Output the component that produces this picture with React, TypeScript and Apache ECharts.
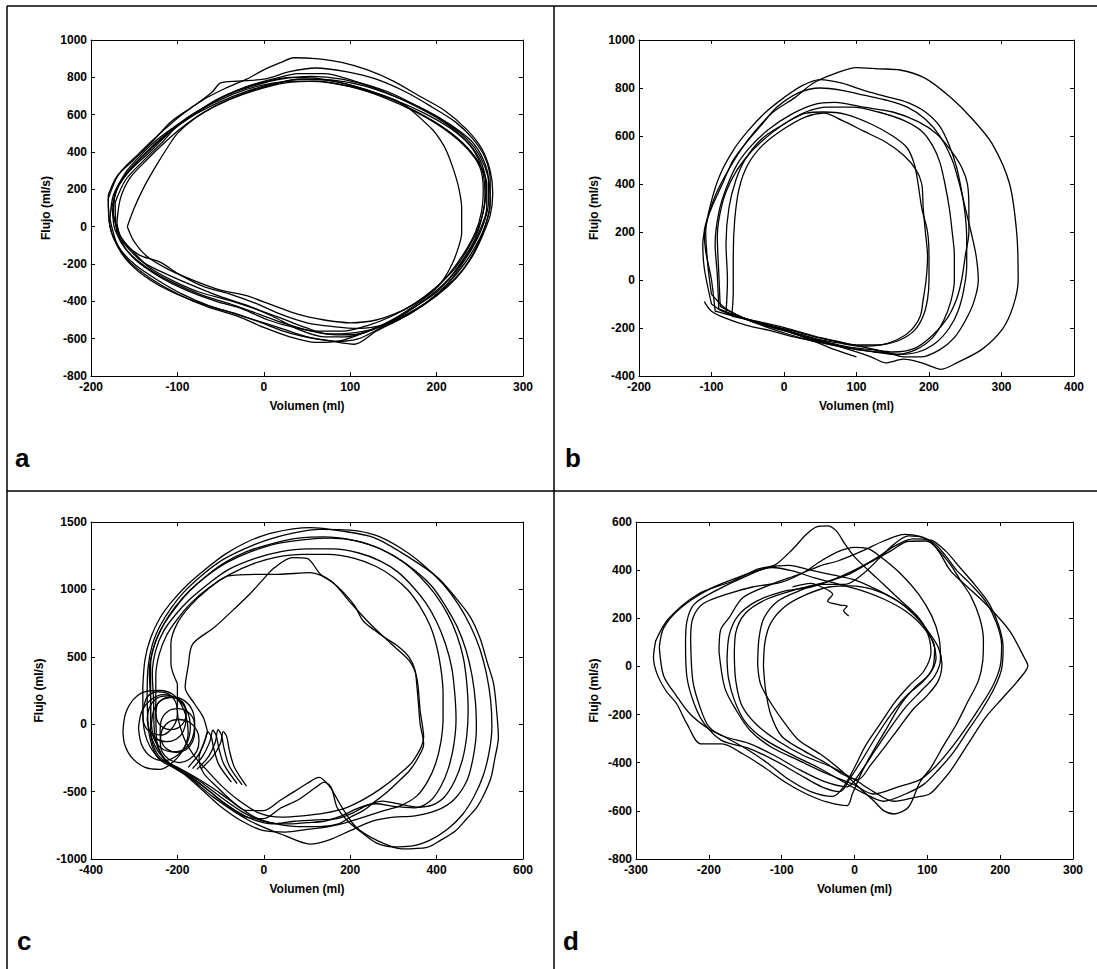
import React, { useEffect, useRef } from 'react';
import * as echarts from 'echarts';

const FONT = '"Liberation Sans", Arial, Helvetica, sans-serif';

// ---------------- Panel a ----------------
const aXTicks = [-200, -100, 0, 100, 200, 300];
const aYTicks = [-800, -600, -400, -200, 0, 200, 400, 600, 800, 1000];
const a1 = [[-175,80],[-170,200],[-155,300],[-132,400],[-110,500],[-85,590],[-55,680],[-25,740],[0,775],[30,800],[60,795],[100,760],[140,700],[175,620],[205,540],[230,450],[248,350],[258,230],[258,100],[250,-20],[238,-130],[220,-250],[200,-350],[175,-430],[150,-500],[120,-560],[95,-590],[70,-590],[40,-550],[10,-480],[-20,-420],[-50,-375],[-80,-320],[-110,-260],[-140,-190],[-160,-100],[-172,-20],[-175,80]];
const a2 = [[-180,150],[-168,280],[-145,390],[-120,500],[-95,600],[-70,680],[-45,740],[-20,790],[0,840],[20,880],[35,905],[60,900],[90,880],[120,840],[150,780],[180,700],[210,620],[235,520],[252,420],[262,300],[265,180],[262,60],[252,-60],[240,-170],[222,-280],[200,-370],[170,-460],[140,-530],[110,-600],[85,-615],[60,-600],[30,-570],[0,-520],[-30,-470],[-60,-430],[-95,-360],[-125,-280],[-150,-200],[-168,-110],[-178,0],[-180,150]];
const a3 = [[-158,0],[-150,100],[-140,200],[-128,300],[-112,420],[-100,500],[-80,580],[-55,650],[-20,720],[10,760],[40,790],[80,780],[120,730],[160,660],[194,526],[205,460],[212,400],[220,300],[226,200],[229,100],[229,-34],[226,-100],[218,-200],[205,-300],[185,-380],[160,-450],[130,-500],[100,-515],[70,-500],[40,-470],[10,-420],[-20,-370],[-50,-340],[-80,-290],[-110,-230],[-135,-160],[-150,-80],[-158,0]];
const a4 = [[-172,130],[-160,250],[-140,350],[-118,450],[-100,540],[-75,620],[-50,690],[-20,750],[10,790],[40,820],[70,820],[105,780],[145,720],[180,640],[210,560],[235,470],[250,380],[260,260],[262,140],[258,30],[248,-80],[232,-200],[212,-310],[190,-400],[165,-470],[135,-535],[110,-575],[85,-580],[55,-560],[25,-520],[-5,-470],[-35,-420],[-70,-370],[-105,-300],[-135,-220],[-158,-130],[-170,-30],[-172,130]];
const a5 = [[-178,40],[-174,170],[-160,280],[-140,380],[-120,470],[-98,550],[-72,630],[-45,700],[-15,750],[20,790],[55,805],[90,790],[130,740],[165,670],[198,590],[225,500],[244,400],[254,280],[256,160],[252,40],[244,-70],[230,-180],[212,-290],[190,-380],[165,-460],[140,-520],[115,-570],[90,-610],[60,-620],[30,-590],[0,-540],[-30,-480],[-65,-430],[-100,-360],[-130,-280],[-155,-190],[-170,-90],[-178,40]];
const a6 = [[-176,100],[-168,220],[-150,330],[-128,430],[-105,520],[-80,600],[-50,670],[-20,725],[10,765],[45,790],[80,785],[115,755],[150,700],[185,630],[215,550],[240,460],[254,360],[260,250],[260,130],[254,10],[243,-100],[228,-210],[210,-320],[190,-400],[168,-470],[140,-525],[110,-545],[80,-535],[50,-515],[20,-470],[-10,-410],[-40,-360],[-70,-320],[-100,-250],[-120,-190],[-145,-150],[-165,-60],[-176,100]];
const a7 = [[-174,60],[-172,180],[-160,290],[-145,370],[-125,460],[-105,530],[-80,610],[-55,670],[-30,720],[0,760],[35,780],[70,775],[110,740],[150,680],[185,610],[215,530],[238,440],[252,340],[257,220],[255,100],[248,-10],[236,-120],[220,-230],[198,-330],[175,-410],[148,-480],[120,-530],[92,-560],[62,-560],[35,-540],[5,-500],[-25,-440],[-55,-400],[-90,-340],[-120,-270],[-148,-180],[-165,-80],[-174,60]];
const a8 = [[-180,170],[-170,270],[-150,360],[-128,460],[-108,560],[-80,650],[-60,720],[-50,770],[-30,780],[0,790],[30,830],[60,850],[95,830],[130,790],[165,720],[195,640],[222,560],[242,470],[256,370],[262,250],[262,120],[256,0],[246,-110],[232,-220],[212,-320],[188,-410],[160,-490],[130,-560],[105,-630],[80,-615],[50,-590],[20,-545],[-10,-500],[-45,-450],[-80,-400],[-115,-330],[-145,-240],[-165,-140],[-178,0],[-180,170]];
const a9 = [[-170,20],[-166,150],[-155,260],[-135,360],[-115,450],[-95,530],[-70,610],[-40,680],[-10,730],[25,770],[60,780],[100,750],[140,690],[178,610],[210,520],[235,420],[250,320],[254,200],[252,80],[245,-30],[232,-140],[215,-250],[195,-350],[172,-430],[148,-500],[125,-550],[100,-570],[75,-575],[48,-540],[20,-490],[-10,-440],[-40,-395],[-75,-350],[-105,-290],[-132,-220],[-152,-130],[-166,-50],[-170,20]];
const panelALoops = [a1, a2, a3, a4, a5, a6, a7, a8, a9];

// ---------------- Panel b ----------------
const bXTicks = [-200, -100, 0, 100, 200, 300, 400];
const bYTicks = [-400, -200, 0, 200, 400, 600, 800, 1000];
const b1 = [[-100,-100],[-110,50],[-112,150],[-105,260],[-95,350],[-80,440],[-60,540],[-40,620],[-15,700],[15,760],[40,820],[70,860],[100,885],[130,880],[160,875],[195,840],[230,760],[260,670],[287,568],[311,402],[321,195],[323,0],[316,-110],[301,-206],[273,-289],[239,-344],[217,-372],[190,-345],[165,-330],[140,-345],[120,-320],[90,-290],[60,-265],[30,-240],[0,-205],[-30,-180],[-60,-155],[-85,-130],[-100,-100]];
const b2 = [[-95,-130],[-100,0],[-108,120],[-110,200],[-100,300],[-85,400],[-70,500],[-50,580],[-30,650],[-10,720],[20,780],[50,800],[80,790],[110,770],[140,750],[170,720],[195,670],[215,600],[232,500],[242,400],[250,300],[258,200],[265,100],[268,0],[262,-90],[250,-170],[235,-240],[215,-290],[190,-320],[165,-320],[140,-300],[110,-280],[80,-260],[50,-240],[20,-215],[-10,-190],[-40,-170],[-70,-150],[-95,-130]];
const b3 = [[-90,-120],[-92,20],[-95,150],[-90,280],[-80,380],[-65,480],[-45,560],[-20,630],[10,690],[40,730],[70,740],[110,720],[150,700],[185,660],[210,610],[230,540],[245,470],[253,400],[255,300],[255,200],[250,100],[245,0],[238,-80],[225,-160],[205,-230],[180,-285],[150,-300],[120,-290],[90,-280],[60,-260],[30,-240],[0,-210],[-30,-185],[-60,-155],[-90,-120]];
const b4 = [[-72,-150],[-70,-50],[-70,100],[-68,250],[-62,380],[-50,480],[-30,560],[0,630],[30,680],[55,695],[80,665],[110,620],[140,575],[165,520],[182,460],[190,400],[192,300],[195,200],[198,100],[196,0],[192,-80],[188,-150],[175,-210],[155,-250],[130,-270],[100,-270],[70,-255],[40,-235],[10,-210],[-20,-190],[-45,-170],[-72,-150]];
const b5 = [[-88,-110],[-90,30],[-92,180],[-85,320],[-72,420],[-55,500],[-30,580],[0,650],[30,700],[60,720],[95,720],[130,700],[165,665],[190,620],[205,560],[215,490],[222,400],[228,300],[232,200],[235,100],[235,0],[230,-90],[220,-170],[205,-240],[182,-290],[155,-310],[125,-300],[95,-285],[65,-270],[35,-250],[5,-225],[-25,-195],[-55,-160],[-88,-110]];
const b6 = [[-100,-60],[-105,60],[-108,200],[-100,330],[-88,440],[-70,540],[-50,620],[-25,700],[0,760],[25,810],[50,835],[80,820],[110,790],[140,765],[170,740],[195,700],[215,640],[228,560],[238,470],[245,370],[250,270],[252,170],[252,60],[248,-40],[240,-130],[228,-200],[210,-260],[185,-300],[160,-310],[130,-300],[100,-290],[70,-270],[40,-245],[10,-220],[-20,-195],[-50,-165],[-80,-120],[-100,-60]];
const b7 = [[-80,-140],[-78,0],[-80,150],[-76,300],[-66,420],[-52,510],[-30,590],[0,650],[30,695],[55,700],[85,690],[120,650],[150,600],[170,550],[180,480],[185,400],[190,300],[198,200],[200,100],[200,0],[198,-80],[192,-150],[180,-210],[160,-250],[135,-270],[105,-275],[75,-262],[45,-245],[15,-220],[-15,-195],[-45,-170],[-80,-140]];
const b8 = [[-110,-90],[-100,-130],[-80,-160],[-50,-190],[-20,-210],[10,-235],[40,-255],[70,-290],[100,-320]];
const panelBLoops = [b1, b2, b3, b4, b5, b6, b7, b8];

// ---------------- Panel c ----------------
const cXTicks = [-400, -200, 0, 200, 400, 600];
const cYTicks = [-1000, -500, 0, 500, 1000, 1500];
const c1 = [[-280,280],[-275,480],[-262,640],[-240,790],[-210,920],[-175,1040],[-135,1150],[-90,1260],[-40,1350],[20,1420],[107,1458],[181,1433],[255,1384],[337,1236],[403,1087],[444,939],[477,800],[500,643],[518,450],[532,300],[539,98],[543,-99],[535,-250],[526,-395],[510,-520],[493,-617],[470,-700],[444,-790],[410,-860],[378,-914],[320,-925],[263,-864],[214,-765],[181,-617],[160,-500],[148,-444],[128,-395],[100,-440],[74,-493],[40,-560],[0,-641],[-40,-640],[-80,-560],[-120,-470],[-160,-390],[-200,-320],[-240,-260],[-270,-120],[-280,80],[-280,280]];
const c2 = [[-270,220],[-268,420],[-258,590],[-240,730],[-215,860],[-185,980],[-145,1100],[-100,1210],[-45,1300],[10,1370],[70,1420],[130,1445],[200,1440],[260,1400],[320,1300],[370,1180],[415,1040],[450,890],[478,730],[500,560],[515,380],[525,180],[528,-20],[522,-200],[508,-380],[486,-540],[460,-670],[425,-780],[385,-860],[340,-905],[300,-910],[260,-880],[225,-800],[195,-720],[170,-620],[156,-470],[140,-430],[120,-470],[80,-560],[40,-620],[0,-700],[-40,-690],[-85,-600],[-125,-500],[-165,-400],[-205,-330],[-245,-250],[-265,-80],[-270,220]];
const c3 = [[-262,200],[-265,400],[-255,570],[-235,720],[-210,840],[-180,960],[-140,1080],[-95,1190],[-40,1280],[20,1340],[80,1380],[140,1390],[200,1370],[255,1320],[305,1240],[350,1140],[390,1020],[420,880],[448,720],[468,550],[482,360],[490,160],[492,-40],[485,-240],[470,-420],[440,-560],[400,-640],[350,-680],[300,-690],[250,-720],[200,-790],[150,-860],[107,-889],[49,-827],[-33,-716],[-116,-543],[-170,-400],[-215,-298],[-245,-200],[-262,-50],[-262,200]];
const c4 = [[-255,180],[-258,380],[-250,550],[-232,690],[-205,810],[-170,930],[-125,1050],[-80,1150],[-20,1230],[40,1280],[100,1300],[160,1300],[220,1270],[270,1210],[310,1130],[345,1020],[375,900],[400,760],[420,600],[435,420],[442,230],[445,40],[440,-150],[428,-320],[410,-460],[385,-570],[350,-620],[300,-610],[260,-590],[220,-620],[180,-680],[140,-720],[100,-730],[50,-740],[0,-720],[-50,-650],[-100,-540],[-145,-430],[-190,-340],[-230,-260],[-252,-100],[-255,180]];
const c5 = [[-250,160],[-250,360],[-242,520],[-225,660],[-200,780],[-168,900],[-128,1010],[-80,1110],[-25,1190],[30,1240],[90,1260],[150,1260],[210,1230],[260,1170],[300,1090],[335,990],[362,870],[385,730],[400,580],[410,410],[415,230],[415,50],[410,-130],[398,-290],[380,-420],[355,-530],[320,-600],[280,-640],[240,-680],[200,-720],[150,-760],[100,-780],[50,-800],[0,-790],[-50,-720],[-100,-610],[-145,-480],[-185,-370],[-225,-280],[-248,-120],[-250,160]];
const c6 = [[-130,-60],[-140,50],[-160,150],[-182,272],[-175,430],[-165,593],[-115,717],[-70,850],[-33,964],[0,1080],[25,1162],[66,1236],[100,1230],[131,1112],[160,1050],[181,989],[210,880],[230,766],[255,700],[280,643],[310,580],[337,494],[350,400],[354,297],[358,150],[362,0],[370,-148],[355,-260],[337,-345],[310,-430],[280,-518],[255,-580],[230,-641],[200,-690],[173,-740],[130,-760],[80,-760],[30,-740],[-20,-690],[-70,-580],[-110,-460],[-140,-360],[-150,-250],[-140,-150],[-130,-60]];
const c7 = [[-200,300],[-215,450],[-215,600],[-200,750],[-170,880],[-130,1000],[-82,1100],[-20,1112],[33,1112],[107,1124],[156,1063],[197,915],[247,741],[296,593],[337,470],[354,346],[362,99],[370,-99],[346,-271],[310,-380],[270,-480],[230,-560],[190,-620],[140,-660],[90,-680],[40,-690],[-10,-660],[-60,-560],[-100,-450],[-135,-330],[-160,-240],[-185,-100],[-200,100],[-200,300]];
const c8 = [[-262,240],[-262,440],[-252,600],[-232,740],[-205,870],[-172,990],[-132,1100],[-85,1200],[-30,1280],[30,1340],[95,1370],[155,1380],[215,1360],[270,1300],[320,1210],[360,1100],[395,970],[425,820],[447,660],[462,490],[470,300],[473,110],[470,-80],[460,-260],[442,-420],[418,-540],[390,-600],[355,-615],[310,-590],[275,-570],[240,-600],[205,-660],[170,-700],[120,-710],[70,-720],[20,-740],[-30,-700],[-80,-610],[-125,-500],[-165,-400],[-205,-320],[-245,-230],[-262,-60],[-262,240]];
const cSpiral1 = [[-290,-30],[-283,90],[-262,180],[-232,220],[-202,190],[-178,100],[-170,-20],[-178,-140],[-200,-230],[-232,-270],[-262,-240],[-283,-150],[-290,-30]];
const cSpiral2 = [[-260,0],[-254,110],[-236,180],[-210,200],[-184,175],[-165,100],[-160,0],[-166,-110],[-184,-185],[-210,-205],[-236,-180],[-254,-110],[-260,0]];
const cSpiral3 = [[-240,-50],[-236,40],[-220,100],[-198,115],[-176,90],[-162,30],[-160,-50],[-165,-130],[-180,-190],[-202,-210],[-224,-185],[-237,-130],[-240,-50]];
const cSpiral4 = [[-270,40],[-264,130],[-246,195],[-222,210],[-198,185],[-182,120],[-180,40],[-186,-50],[-202,-110],[-226,-130],[-250,-105],[-265,-40],[-270,40]];
const cSpiral5 = [[-326,-50],[-320,80],[-300,190],[-270,245],[-240,250],[-210,220],[-192,150],[-180,60],[-175,-60],[-185,-180],[-210,-280],[-240,-335],[-275,-320],[-305,-250],[-322,-150],[-326,-50]];
const cSpiral6 = [[-240,-120],[-235,-40],[-218,20],[-195,35],[-172,15],[-155,-45],[-150,-120],[-155,-200],[-172,-260],[-196,-285],[-220,-260],[-236,-200],[-240,-120]];
const cSpiral7 = [[-250,80],[-246,150],[-232,190],[-214,200],[-196,185],[-183,140],[-180,80],[-184,20],[-197,-25],[-215,-40],[-233,-25],[-246,20],[-250,80]];
const cSpiral8 = [[-280,100],[-270,200],[-250,240],[-225,230],[-205,170],[-200,80],[-210,-20],[-235,-80],[-262,-60],[-278,10],[-280,100]];
const cHook1 = [[-175,-320],[-150,-220],[-136,-120],[-130,-55],[-122,-90],[-116,-180],[-104,-300],[-75,-430]];
const cHook2 = [[-165,-330],[-140,-230],[-124,-120],[-118,-45],[-110,-85],[-104,-180],[-92,-300],[-62,-440]];
const cHook3 = [[-155,-335],[-128,-240],[-112,-130],[-106,-40],[-98,-80],[-92,-180],[-80,-310],[-50,-450]];
const cHook4 = [[-145,-330],[-118,-240],[-100,-140],[-94,-55],[-86,-90],[-80,-190],[-68,-320],[-40,-460]];
const panelCLoops = [c1, c2, c3, c4, c5, c6, c7, c8, cSpiral1, cSpiral2, cSpiral3, cSpiral4, cSpiral5, cSpiral6, cSpiral7, cSpiral8, cHook1, cHook2, cHook3, cHook4];

// ---------------- Panel d ----------------
const dXTicks = [-300, -200, -100, 0, 100, 200, 300];
const dYTicks = [-800, -600, -400, -200, 0, 200, 400, 600];
const d1 = [[-273,106],[-256,196],[-215,300],[-167,355],[-133,404],[-109,422],[-85,487],[-66,549],[-52,580],[-37,584],[-25,563],[-13,508],[1,452],[30,369],[59,286],[88,203],[107,106],[112,37],[103,-32],[83,-87],[64,-156],[45,-253],[26,-350],[11,-433],[-3,-530],[-10,-578],[-37,-564],[-66,-530],[-95,-481],[-124,-419],[-153,-364],[-182,-322],[-211,-322],[-230,-239],[-244,-156],[-259,-101],[-271,-32],[-276,37],[-273,106]];
const d2 = [[-268,80],[-262,160],[-240,240],[-200,320],[-160,370],[-120,410],[-90,420],[-60,400],[-30,380],[0,360],[30,320],[60,270],[85,210],[100,140],[105,60],[95,-20],[75,-80],[55,-150],[35,-240],[15,-330],[0,-420],[-15,-500],[-30,-540],[-60,-520],[-90,-470],[-120,-400],[-150,-340],[-180,-290],[-200,-260],[-225,-200],[-245,-120],[-262,-40],[-268,80]];
const d3 = [[-232,93],[-230,189],[-220,259],[-191,314],[-153,369],[-114,411],[-85,397],[-56,369],[-20,340],[11,314],[40,280],[70,230],[95,160],[110,80],[108,0],[95,-60],[72,-120],[50,-200],[30,-290],[12,-380],[-5,-460],[-20,-520],[-45,-500],[-75,-450],[-110,-390],[-145,-340],[-182,-308],[-206,-239],[-220,-156],[-230,-46],[-232,93]];
const d4 = [[-225,120],[-222,200],[-208,260],[-175,300],[-140,330],[-100,350],[-70,390],[-45,440],[-20,480],[0,495],[18,490],[38,450],[65,380],[88,300],[106,210],[116,120],[118,30],[110,-40],[92,-100],[70,-170],[48,-260],[28,-350],[8,-440],[-10,-500],[-40,-480],[-75,-430],[-110,-370],[-145,-320],[-180,-290],[-200,-250],[-212,-170],[-222,-60],[-225,120]];
const d5 = [[-186,60],[-184,150],[-172,203],[-153,286],[-114,341],[-76,383],[-47,418],[-23,438],[11,480],[40,521],[69,549],[90,540],[110,510],[125,460],[140,400],[160,340],[180,270],[195,180],[202,90],[200,0],[190,-80],[172,-170],[152,-260],[130,-350],[110,-420],[90,-470],[60,-500],[26,-530],[-3,-488],[-37,-447],[-76,-391],[-114,-336],[-143,-267],[-162,-184],[-178,-90],[-186,60]];
const d6 = [[-165,40],[-163,140],[-150,220],[-120,280],[-80,320],[-40,350],[-10,380],[20,430],[50,480],[74,520],[98,521],[112,494],[132,397],[156,328],[185,245],[213,148],[233,37],[238,3],[228,-46],[204,-129],[180,-212],[156,-322],[132,-433],[117,-488],[103,-530],[83,-544],[54,-560],[26,-520],[0,-470],[-30,-420],[-70,-370],[-105,-310],[-135,-240],[-155,-160],[-163,-60],[-165,40]];
const d7 = [[-133,10],[-131,120],[-124,203],[-105,272],[-76,314],[-47,341],[-13,341],[11,383],[35,452],[54,507],[74,542],[95,535],[110,500],[130,430],[145,360],[160,290],[172,200],[177,110],[176,20],[170,-60],[155,-150],[140,-240],[122,-330],[105,-420],[90,-480],[74,-585],[54,-613],[40,-599],[26,-557],[6,-502],[-18,-433],[-47,-364],[-76,-308],[-95,-239],[-114,-156],[-129,-73],[-133,10]];
const d8 = [[-125,0],[-123,100],[-115,180],[-95,250],[-65,300],[-35,330],[-5,335],[25,320],[55,280],[80,220],[100,150],[115,80],[120,10],[115,-60],[100,-120],[80,-180],[60,-260],[40,-340],[22,-410],[5,-470],[-15,-450],[-40,-400],[-70,-350],[-100,-290],[-115,-200],[-122,-100],[-125,0]];
const d9 = [[-175,30],[-172,130],[-160,210],[-135,270],[-100,310],[-60,330],[-30,360],[0,400],[30,450],[55,500],[80,530],[105,525],[125,480],[145,410],[165,340],[185,260],[198,170],[204,80],[202,-10],[192,-90],[175,-180],[155,-270],[135,-360],[115,-430],[95,-490],[70,-530],[40,-560],[15,-530],[-15,-480],[-50,-420],[-90,-360],[-125,-300],[-150,-230],[-165,-140],[-173,-50],[-175,30]];
const dTail = [[-85,330],[-60,345],[-45,330],[-30,300],[-37,272],[-20,255],[-10,250],[-15,232],[-8,210]];
const panelDLoops = [d1, d2, d3, d4, d5, d6, d7, d8, d9, dTail];

// ---------------- Layout ----------------
const panels = [
  { letter: 'a', loops: panelALoops, xTicks: aXTicks, yTicks: aYTicks, box: { left: 91, top: 40, width: 432, height: 336 }, yGap: 39, letterPos: [15, 458] },
  { letter: 'b', loops: panelBLoops, xTicks: bXTicks, yTicks: bYTicks, box: { left: 639, top: 40, width: 435, height: 336 }, yGap: 39, letterPos: [565, 458] },
  { letter: 'c', loops: panelCLoops, xTicks: cXTicks, yTicks: cYTicks, box: { left: 91, top: 522, width: 432, height: 337 }, yGap: 46, letterPos: [17, 941] },
  { letter: 'd', loops: panelDLoops, xTicks: dXTicks, yTicks: dYTicks, box: { left: 636, top: 522, width: 437, height: 337 }, yGap: 36, letterPos: [563, 941] },
];

function range(ticks: number[]) {
  return { min: ticks[0], max: ticks[ticks.length - 1], interval: ticks[1] - ticks[0] };
}

function buildOption() {
  const grid: any[] = [];
  const xAxis: any[] = [];
  const yAxis: any[] = [];
  const series: any[] = [];
  const lineStyle = { color: '#000', width: 1 };
  const tick = { show: true, inside: true, length: 4, lineStyle: { color: '#000', width: 1 } };
  const label = {
    color: '#000', fontSize: 12, fontWeight: 'bold', fontFamily: FONT,
    showMinLabel: true, showMaxLabel: true, formatter: (v: number) => String(v),
  };
  const nameStyle = { color: '#000', fontSize: 12, fontWeight: 'bold', fontFamily: FONT };

  panels.forEach((p, i) => {
    grid.push({ left: p.box.left, top: p.box.top, width: p.box.width, height: p.box.height, containLabel: false, show: false });
    const xr = range(p.xTicks);
    const yr = range(p.yTicks);
    xAxis.push({
      type: 'value', gridIndex: i, position: 'bottom', ...xr,
      axisLine: { show: true, onZero: false, lineStyle }, axisTick: tick,
      axisLabel: { ...label, margin: 5 }, splitLine: { show: false },
      name: 'Volumen (ml)', nameLocation: 'middle', nameGap: 24, nameTextStyle: nameStyle,
    });
    xAxis.push({
      type: 'value', gridIndex: i, position: 'top', ...xr,
      axisLine: { show: true, onZero: false, lineStyle }, axisTick: tick,
      axisLabel: { show: false }, splitLine: { show: false },
    });
    yAxis.push({
      type: 'value', gridIndex: i, position: 'left', ...yr,
      axisLine: { show: true, onZero: false, lineStyle }, axisTick: tick,
      axisLabel: { ...label, margin: 4 }, splitLine: { show: false },
      name: 'Flujo (ml/s)', nameLocation: 'middle', nameGap: p.yGap, nameRotate: 90, nameTextStyle: nameStyle,
    });
    yAxis.push({
      type: 'value', gridIndex: i, position: 'right', ...yr,
      axisLine: { show: true, onZero: false, lineStyle }, axisTick: tick,
      axisLabel: { show: false }, splitLine: { show: false },
    });
    p.loops.forEach((loop) => {
      series.push({
        type: 'line', xAxisIndex: 2 * i, yAxisIndex: 2 * i, data: loop,
        symbol: 'none', showSymbol: false, smooth: 0.3, silent: true,
        lineStyle: { color: '#000', width: 1.3 },
      });
    });
  });

  const borderStyle = { stroke: '#000', lineWidth: 1.5 };
  const graphic: any[] = [
    { type: 'line', shape: { x1: 7, y1: 6, x2: 1097, y2: 6 }, style: borderStyle, silent: true },
    { type: 'line', shape: { x1: 7, y1: 6, x2: 7, y2: 969 }, style: borderStyle, silent: true },
    { type: 'line', shape: { x1: 554, y1: 6, x2: 554, y2: 969 }, style: borderStyle, silent: true },
    { type: 'line', shape: { x1: 7, y1: 491, x2: 1097, y2: 491 }, style: borderStyle, silent: true },
  ];
  panels.forEach((p) => {
    graphic.push({
      type: 'text', x: p.letterPos[0], y: p.letterPos[1], silent: true,
      style: {
        text: p.letter, fill: '#000', font: `bold 26px ${FONT}`,
        align: 'left', textAlign: 'left', verticalAlign: 'middle', textVerticalAlign: 'middle',
      },
    });
  });

  return { animation: false, backgroundColor: '#fff', grid, xAxis, yAxis, series, graphic };
}

export default function App() {
  const ref = useRef<HTMLDivElement>(null);
  useEffect(() => {
    document.body.style.margin = '0';
    if (!ref.current) return;
    const chart = echarts.init(ref.current, undefined, { renderer: 'svg' });
    chart.setOption(buildOption() as any);
    return () => chart.dispose();
  }, []);
  return <div ref={ref} style={{ width: 1097, height: 969, background: '#fff' }} />;
}
